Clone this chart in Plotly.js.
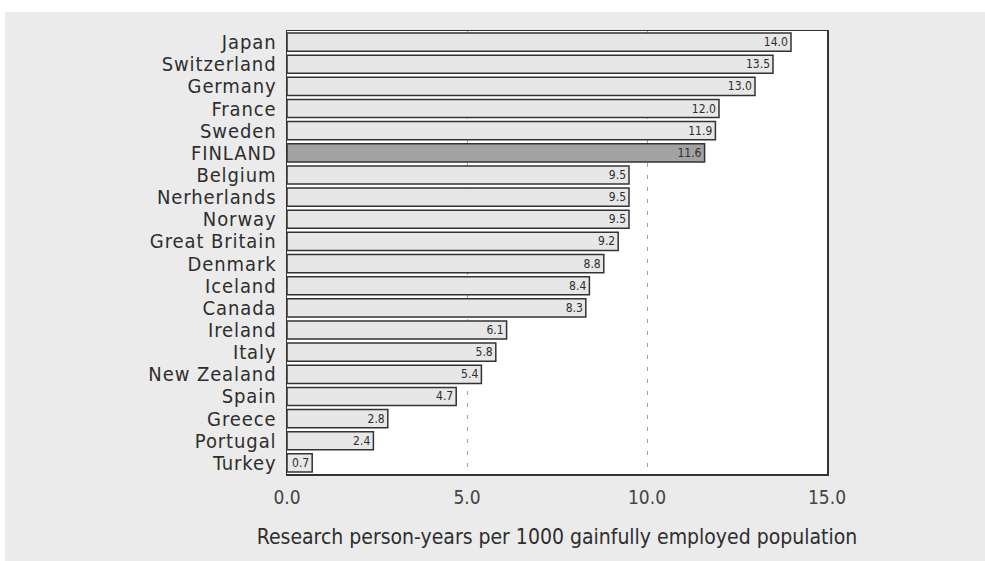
<!DOCTYPE html>
<html>
<head>
<meta charset="utf-8">
<script src="https://cdn.plot.ly/plotly-3.0.1.min.js"></script>
<style>
  html, body { margin: 0; padding: 0; background: #ffffff; }
  #chart { position: absolute; left: 5px; top: 12px; width: 980px; height: 549px; }
  /* slightly open tracking on the country names */
  #chart .ytick text { letter-spacing: 0.9px; }
</style>
</head>
<body>
<div id="chart"></div>
<script>
// Research person-years per 1000 gainfully employed population, by country
const countries = [
  "Japan", "Switzerland", "Germany", "France", "Sweden", "FINLAND",
  "Belgium", "Nerherlands", "Norway", "Great Britain", "Denmark", "Iceland",
  "Canada", "Ireland", "Italy", "New Zealand", "Spain", "Greece",
  "Portugal", "Turkey"
];
const values = [
  14.0, 13.5, 13.0, 12.0, 11.9, 11.6,
  9.5, 9.5, 9.5, 9.2, 8.8, 8.4,
  8.3, 6.1, 5.8, 5.4, 4.7, 2.8,
  2.4, 0.7
];
const highlight = "FINLAND";
const xTicks = [0, 5, 10, 15];

const font = "'DejaVu Sans Condensed', 'DejaVu Sans', sans-serif";

const fills = countries.map(c => c === highlight ? "#a2a2a2" : "#e7e7e7");

const trace = {
  type: "bar",
  orientation: "h",
  y: countries,
  x: values,
  width: 0.82,
  marker: { color: fills, line: { color: "#333333", width: 1.5 } },
  text: values.map(v => v.toFixed(1)),
  textposition: "inside",
  insidetextanchor: "end",
  constraintext: "none",
  textfont: { family: font, size: 12, color: "#2e2e2e" },
  hoverinfo: "x+y"
};

const layout = {
  width: 980,
  height: 549,
  margin: { l: 282, r: 158, t: 19, b: 87 },
  paper_bgcolor: "#ebebeb",
  plot_bgcolor: "#ffffff",
  showlegend: false,
  font: { family: font, color: "#333333" },
  xaxis: {
    range: [0, 15],
    tickmode: "array",
    tickvals: xTicks,
    ticktext: xTicks.map(v => v.toFixed(1)),
    showgrid: true,
    gridcolor: "#a0a0a0",
    griddash: "4px,8px",
    gridwidth: 1,
    zeroline: false,
    showline: true,
    linecolor: "#333333",
    linewidth: 1.5,
    mirror: true,
    ticks: "",
    ticklabelstandoff: 6,
    tickfont: { family: font, size: 19, color: "#444444" },
    title: {
      text: "Research person-years per 1000 gainfully employed population",
      font: { family: font, size: 21, color: "#2e2e2e" },
      standoff: 22
    }
  },
  yaxis: {
    type: "category",
    autorange: "reversed",
    tickmode: "array",
    tickvals: countries,
    showgrid: false,
    zeroline: false,
    showline: true,
    linecolor: "#333333",
    linewidth: 1.5,
    mirror: true,
    ticks: "",
    ticklabelstandoff: 5,
    tickfont: { family: font, size: 20, color: "#2e2e2e" }
  }
};

Plotly.newPlot("chart", [trace], layout, { displayModeBar: false, staticPlot: true });
</script>
</body>
</html>
